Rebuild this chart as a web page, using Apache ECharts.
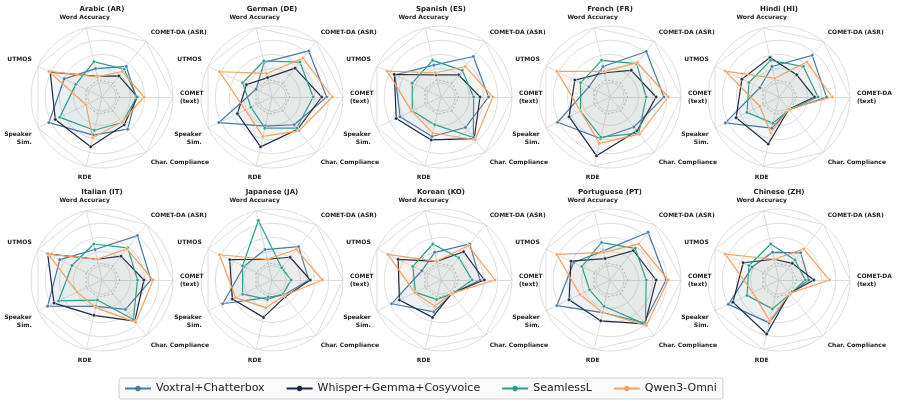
<!DOCTYPE html>
<html>
<head>
<meta charset="utf-8">
<script src="https://cdn.jsdelivr.net/npm/echarts@6/dist/echarts.min.js"></script>
<style>
  html, body { margin: 0; padding: 0; background: #fff; }
  #main { width: 897px; height: 408px; }
</style>
</head>
<body>
<div id="main"></div>
<script>
// one radar per language, values are normalised radii (0 = centre, 1 = outer ring)
var languages = ['Arabic (AR)', 'German (DE)', 'Spanish (ES)', 'French (FR)', 'Hindi (HI)',
                 'Italian (IT)', 'Japanese (JA)', 'Korean (KO)', 'Portuguese (PT)', 'Chinese (ZH)'];
// axis order (counter-clockwise from the top)
var axisNames = ['Word Accuracy', 'UTMOS', 'Speaker\nSim.', 'RDE', 'Char. Compliance', 'COMET-DA\n(text)', 'COMET-DA (ASR)'];
var models = ['Voxtral+Chatterbox', 'Whisper+Gemma+Cosyvoice', 'SeamlessL', 'Qwen3-Omni'];
var colors = ['#4a7aa3', '#1e2a44', '#2a9d8f', '#f4a261'];

var voxtral = [
  [0.41, 0.59, 0.83, 0.55, 0.58, 0.48, 0.55],
  [0.50, 0.25, 0.83, 0.42, 0.50, 0.77, 0.83],
  [0.46, 0.72, 0.64, 0.57, 0.55, 0.67, 0.73],
  [0.44, 0.33, 0.82, 0.60, 0.54, 0.76, 0.82],
  [0.44, 0.30, 0.84, 0.45, 0.23, 0.67, 0.75],
  [0.44, 0.66, 0.85, 0.38, 0.53, 0.69, 0.80],
  [0.44, 0.44, 0.77, 0.25, 0.27, 0.52, 0.60],
  [0.40, 0.30, 0.77, 0.46, 0.25, 0.55, 0.65],
  [0.42, 0.57, 0.83, 0.47, 0.77, 0.79, 0.86],
  [0.40, 0.42, 0.79, 0.62, 0.25, 0.42, 0.49]
];
var whisper = [
  [0.30, 0.81, 0.73, 0.72, 0.50, 0.50, 0.38],
  [0.28, 0.40, 0.54, 0.72, 0.58, 0.70, 0.52],
  [0.32, 0.73, 0.70, 0.62, 0.75, 0.55, 0.40],
  [0.35, 0.55, 0.64, 0.85, 0.61, 0.65, 0.48],
  [0.57, 0.58, 0.67, 0.68, 0.22, 0.50, 0.40],
  [0.30, 0.85, 0.75, 0.51, 0.74, 0.59, 0.43],
  [0.30, 0.66, 0.62, 0.54, 0.30, 0.54, 0.41],
  [0.27, 0.67, 0.65, 0.54, 0.24, 0.61, 0.51],
  [0.31, 0.61, 0.64, 0.59, 0.79, 0.65, 0.53],
  [0.30, 0.56, 0.72, 0.78, 0.24, 0.49, 0.30]
];
var seamless = [
  [0.51, 0.41, 0.66, 0.48, 0.46, 0.49, 0.50],
  [0.52, 0.46, 0.33, 0.45, 0.56, 0.58, 0.63],
  [0.53, 0.45, 0.45, 0.40, 0.73, 0.46, 0.48],
  [0.53, 0.46, 0.46, 0.58, 0.65, 0.51, 0.60],
  [0.53, 0.47, 0.50, 0.38, 0.23, 0.55, 0.55],
  [0.52, 0.47, 0.68, 0.29, 0.71, 0.50, 0.58],
  [0.86, 0.46, 0.46, 0.28, 0.25, 0.27, 0.22],
  [0.52, 0.44, 0.40, 0.28, 0.25, 0.44, 0.40],
  [0.54, 0.44, 0.32, 0.38, 0.80, 0.51, 0.57],
  [0.52, 0.47, 0.50, 0.42, 0.25, 0.37, 0.36]
];
var qwen = [
  [0.29, 0.83, 0.25, 0.59, 0.45, 0.59, 0.46],
  [0.34, 0.82, 0.42, 0.57, 0.61, 0.85, 0.70],
  [0.35, 0.84, 0.46, 0.52, 0.77, 0.73, 0.55],
  [0.37, 0.83, 0.46, 0.67, 0.67, 0.82, 0.62],
  [0.27, 0.84, 0.30, 0.52, 0.22, 0.75, 0.63],
  [0.30, 0.84, 0.39, 0.40, 0.76, 0.72, 0.56],
  [0.30, 0.82, 0.57, 0.40, 0.28, 0.71, 0.55],
  [0.27, 0.83, 0.41, 0.38, 0.24, 0.76, 0.62],
  [0.40, 0.83, 0.47, 0.47, 0.82, 0.82, 0.65],
  [0.30, 0.84, 0.41, 0.59, 0.24, 0.71, 0.56]
];
var baseline = [0.25, 0.25, 0.25, 0.25, 0.25, 0.25, 0.25];
var allData = [voxtral, whisper, seamless, qwen];

var colX = [102, 272, 441, 610, 779];
var rowY = [97, 280];
var R = 71;
var startAngle = 90 + 360 / 28; // word accuracy sits a bit left of vertical
var fontFamily = 'DejaVu Sans';

var radars = [], series = [], titles = [], texts = [];

languages.forEach(function (lang, i) {
  var cx = colX[i % 5], cy = rowY[Math.floor(i / 5)];
  var ind = axisNames.map(function () { return { min: 0, max: 1 }; });
  // circular grid + spokes
  radars.push({
    center: [cx, cy], radius: R, startAngle: startAngle, shape: 'circle', splitNumber: 5,
    indicator: ind, axisName: { show: false },
    splitLine: { lineStyle: { color: '#dedede', width: 1 } },
    splitArea: { show: false },
    axisLine: { lineStyle: { color: '#dedede', width: 1 } }
  });
  // outer heptagon frame
  radars.push({
    center: [cx, cy], radius: R, startAngle: startAngle, shape: 'polygon', splitNumber: 1,
    indicator: ind, axisName: { show: false },
    splitLine: { lineStyle: { color: '#dedede', width: 1 } },
    splitArea: { show: false }, axisLine: { show: false }
  });
  var ri = radars.length - 2;

  series.push({
    type: 'radar', radarIndex: ri, silent: true, symbol: 'none', z: 1,
    lineStyle: { color: '#b8b8b8', width: 1, type: [2, 2] },
    data: [{ value: baseline, name: 'baseline' }]
  });
  models.forEach(function (m, k) {
    series.push({
      type: 'radar', name: m, radarIndex: ri, z: 2 + k,
      symbol: 'circle', symbolSize: 3.5,
      itemStyle: { color: colors[k], borderColor: '#fff', borderWidth: 0.5 },
      lineStyle: { color: colors[k], width: 1.2 },
      areaStyle: { color: colors[k], opacity: 0.045 },
      data: [{ value: allData[k][i], name: m }]
    });
  });

  titles.push({
    text: lang, left: cx, top: cy - 91, textAlign: 'center', padding: 0,
    textStyle: { fontSize: 7, fontWeight: 'bold', fontFamily: fontFamily, color: '#222' }
  });

  // axis labels, matplotlib-style alignment
  axisNames.forEach(function (name, j) {
    var a = (startAngle + j * 360 / 7) * Math.PI / 180;
    var c = Math.cos(a), s = Math.sin(a);
    var label = name;
    if (j === 5 && i % 5 !== 4) label = 'COMET\n(text)';
    texts.push({
      type: 'text', x: cx + (R + 7) * c, y: cy - (R + 7) * s, z: 50,
      style: {
        text: label, font: 'bold 6px ' + fontFamily, fill: '#222', lineHeight: 8,
        align: Math.abs(c) < 0.3 ? 'center' : (c > 0 ? 'left' : 'right'),
        verticalAlign: s > 0.3 ? 'bottom' : (s < -0.3 ? 'top' : 'middle')
      }
    });
  });
});

var chart = echarts.init(document.getElementById('main'));
chart.setOption({
  animation: false,
  title: titles,
  radar: radars,
  series: series,
  graphic: texts,
  legend: {
    data: models.map(function (m, k) {
      return { name: m, itemStyle: { color: colors[k], borderWidth: 0 } };
    }),
    left: 119, top: 378, orient: 'horizontal',
    icon: 'path://M0,4h24v2h-24z M12,2.5a2.5,2.5 0 1,1 0,5a2.5,2.5 0 1,1 0,-5z',
    itemWidth: 26, itemHeight: 6, itemGap: 22,
    itemStyle: { borderWidth: 0 },
    padding: [5, 6], borderColor: '#d0d0d0', borderWidth: 1, borderRadius: 2,
    backgroundColor: '#fafafa',
    textStyle: { fontSize: 11, fontFamily: fontFamily, color: '#222' }
  }
});
</script>
</body>
</html>
